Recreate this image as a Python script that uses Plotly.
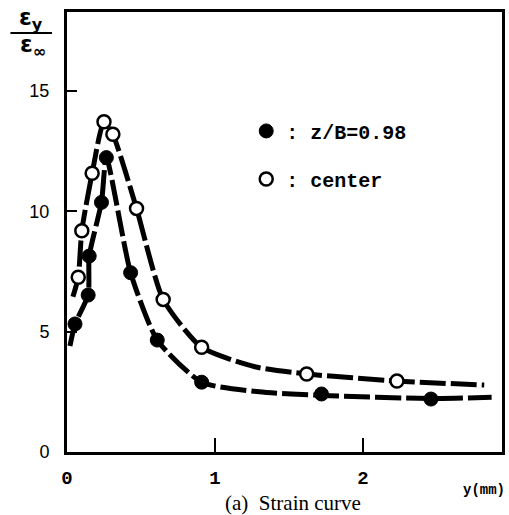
import plotly.graph_objects as go

# Measured points
filled_x = [0.054, 0.143, 0.15, 0.233, 0.266, 0.43, 0.61, 0.91, 1.72, 2.46]
filled_y = [5.32, 6.52, 8.14, 10.37, 12.23, 7.45, 4.65, 2.90, 2.41, 2.20]
open_x = [0.076, 0.10, 0.17, 0.25, 0.31, 0.47, 0.65, 0.91, 1.62, 2.23]
open_y = [7.26, 9.19, 11.58, 13.72, 13.20, 10.12, 6.34, 4.35, 3.24, 2.95]

# Hand-drawn fitted curves
fit_filled_x = [0.02, 0.054, 0.143, 0.15, 0.233, 0.266, 0.43, 0.61, 0.91, 1.3, 1.72, 2.46, 2.87]
fit_filled_y = [4.4, 5.32, 6.52, 8.14, 10.37, 12.23, 7.45, 4.65, 2.9, 2.5, 2.35, 2.22, 2.27]
fit_open_x = [0.04, 0.076, 0.10, 0.17, 0.25, 0.31, 0.47, 0.65, 0.91, 1.27, 1.62, 2.23, 2.82]
fit_open_y = [6.45, 7.26, 9.19, 11.58, 13.72, 13.2, 10.12, 6.34, 4.35, 3.54, 3.24, 2.95, 2.78]

x_ticks = [0, 1, 2]
y_ticks = [0, 5, 10, 15]

fig = go.Figure()
line_style = dict(color="black", width=5, dash="26px,5px", shape="spline", smoothing=0.6)
fig.add_trace(go.Scatter(x=fit_filled_x, y=fit_filled_y, mode="lines", line=line_style,
                         showlegend=False, hoverinfo="skip"))
fig.add_trace(go.Scatter(x=fit_open_x, y=fit_open_y, mode="lines", line=line_style,
                         showlegend=False, hoverinfo="skip"))
fig.add_trace(go.Scatter(x=filled_x, y=filled_y, mode="markers", name=": z/B=0.98",
                         legendgroup="a",
                         marker=dict(symbol="circle", size=14, color="black",
                                     line=dict(color="black", width=1))))
fig.add_trace(go.Scatter(x=open_x, y=open_y, mode="markers", name=": center",
                         legendgroup="b",
                         marker=dict(symbol="circle", size=13, color="white",
                                     line=dict(color="black", width=2.5))))

fig.update_layout(
    width=509, height=515,
    margin=dict(l=67, r=4, t=12, b=63),
    paper_bgcolor="white", plot_bgcolor="white",
    showlegend=True,
    legend=dict(x=0.412, y=0.774, xanchor="left", yanchor="top",
                bgcolor="rgba(0,0,0,0)", borderwidth=0,
                traceorder="grouped", tracegroupgap=19,
                font=dict(family="Liberation Mono", size=20, color="black", weight="bold")),
    xaxis=dict(range=[0, 2.94], tickvals=x_ticks, ticktext=[str(v) for v in x_ticks],
               ticks="inside", ticklen=14, tickwidth=2, tickcolor="black",
               showline=True, linewidth=3, linecolor="black", mirror=True,
               showgrid=False, zeroline=False, ticklabelstandoff=6,
               tickfont=dict(family="Liberation Mono", size=19, color="black", weight="bold")),
    yaxis=dict(range=[0, 18.28], tickvals=y_ticks, ticktext=[str(v) for v in y_ticks],
               ticks="inside", ticklen=10, tickwidth=2, tickcolor="black",
               showline=True, linewidth=3, linecolor="black", mirror=True,
               showgrid=False, zeroline=False, ticklabelstandoff=11,
               tickfont=dict(family="Liberation Sans", size=18, color="black")),
    annotations=[
        dict(text="<b>ε<sub>y</sub></b>", xref="paper", yref="paper", x=-0.082, y=0.985,
             xanchor="center", yanchor="middle",
             showarrow=False, font=dict(family="DejaVu Sans", size=23, color="black")),
        dict(text="<b>ε<sub>∞</sub></b>", xref="paper", yref="paper", x=-0.078, y=0.922,
             xanchor="center", yanchor="middle",
             showarrow=False, font=dict(family="DejaVu Sans", size=23, color="black")),
        dict(text="<b>y(mm)</b>", xref="paper", yref="paper", x=0.958, y=-0.086,
             xanchor="center", yanchor="middle",
             showarrow=False, font=dict(family="Liberation Mono", size=14, color="black")),
        dict(text="(a)&nbsp; Strain curve", xref="paper", yref="paper", x=0.52, y=-0.116,
             xanchor="center", yanchor="middle",
             showarrow=False, font=dict(family="Liberation Serif", size=21, color="black")),
    ],
    shapes=[dict(type="line", xref="paper", yref="paper", x0=-0.130, x1=-0.0345,
                 y0=0.952, y1=0.952, line=dict(color="black", width=2))],
)

fig.write_html("out.html", config={"displayModeBar": False},
               post_script="document.body.style.margin='0';document.body.style.overflow='hidden';")
